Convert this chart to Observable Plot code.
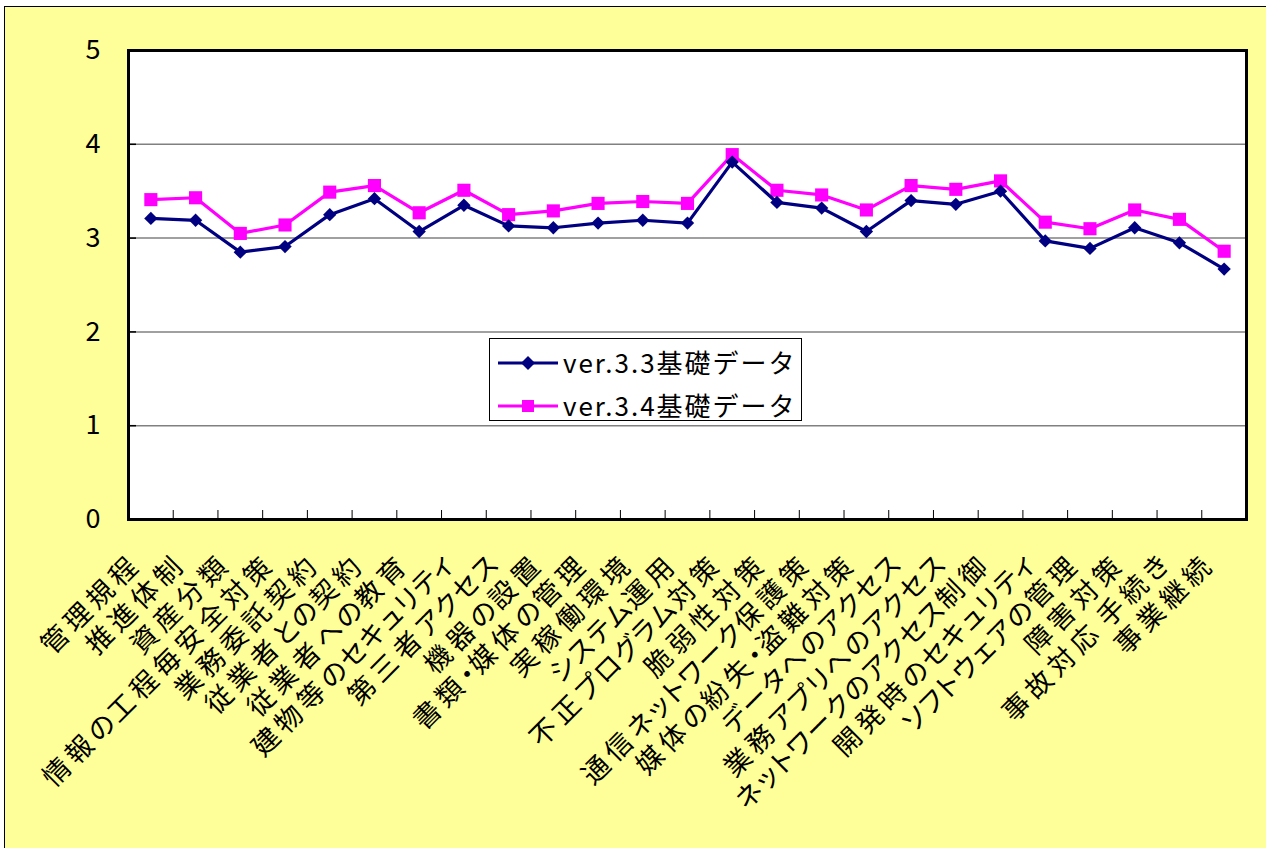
<!DOCTYPE html>
<html>
<head>
<meta charset="utf-8">
<script src="https://cdn.jsdelivr.net/npm/d3@7"></script>
<script src="https://cdn.jsdelivr.net/npm/@observablehq/plot@0.6"></script>
<style>
  html, body { margin: 0; padding: 0; background: #ffffff; overflow: hidden; width: 1266px; height: 848px; }
  #outer { position: absolute; left: 4px; top: 6px; width: 1300px; height: 900px; border: 1px solid #000; background: #FFFF99; }
  #chart { position: absolute; left: 0; top: 0; }
  #legend { position: absolute; left: 489px; top: 338px; width: 313px; height: 83px; box-sizing: border-box;
            border: 1px solid #000; background: #fff; font-family: "Noto Sans CJK JP", sans-serif; font-size: 26px; letter-spacing: 2px; color: #000; }
  .row { position: absolute; left: 0; height: 40px; width: 100%; }
  .row svg { position: absolute; left: 8px; top: 10px; }
  .row span { position: absolute; left: 73px; top: 2px; line-height: 34px; white-space: nowrap; }
  #chart svg g[aria-label="text"]:last-of-type text { font-feature-settings: "palt" 1; }
  tspan.k { letter-spacing: 5px; }
  tspan.kana { letter-spacing: 1.5px; }
  tspan.sp { letter-spacing: 0px; }
</style>
</head>
<body>
<div id="outer"></div>
<div id="chart"></div>
<div id="legend"></div>
<script>
const categories = [
  "管理規程", "推進体制", "資産分類", "情報の工程毎安全対策", "業務委託契約",
  "従業者との契約", "従業者への教育", "建物等のセキュリティ", "第三者アクセス", "機器の設置",
  "書類・媒体の管理", "実稼働環境", "システム運用", "不正プログラム対策", "脆弱性対策",
  "通信ネットワーク保護策", "媒体の紛失・盗難対策", "データへのアクセス", "業務アプリへのアクセス", "ネットワークのアクセス制御",
  "開発時のセキュリティ", "ソフトウェアの管理", "障害対策", "事故対応 手続き", "事業継続"
];
const ver33 = [3.21, 3.19, 2.85, 2.91, 3.25, 3.42, 3.07, 3.35, 3.13, 3.11, 3.16, 3.19, 3.16, 3.81, 3.38, 3.32, 3.07, 3.40, 3.36, 3.50, 2.97, 2.89, 3.11, 2.95, 2.67];
const ver34 = [3.41, 3.43, 3.05, 3.14, 3.49, 3.56, 3.27, 3.51, 3.25, 3.29, 3.37, 3.39, 3.37, 3.89, 3.51, 3.46, 3.30, 3.56, 3.52, 3.61, 3.17, 3.10, 3.30, 3.20, 2.86];
const seriesNames = ["ver.3.3基礎データ", "ver.3.4基礎データ"];
const seriesColors = ["#000080", "#FF00FF"];
const yTicks = [0, 1, 2, 3, 4, 5];
const gridValues = [1, 2, 3, 4];

// category position = index (1..n) on a linear scale spanning [0.5, n + 0.5]
const labelRows = categories.map((c, i) => ({category: c, pos: i + 1}));
const boundaries = categories.slice(1).map((c, i) => i + 1.5);
const rows33 = categories.map((c, i) => ({category: c, pos: i + 1, value: ver33[i], series: seriesNames[0]}));
const rows34 = categories.map((c, i) => ({category: c, pos: i + 1, value: ver34[i], series: seriesNames[1]}));

const W = 1266, H = 848;
const mL = 128, mT = 50, mR = 20, mB = 329;
const plotW = W - mL - mR, plotH = H - mT - mB;

const chart = Plot.plot({
  width: W, height: H,
  marginLeft: mL, marginTop: mT, marginRight: mR, marginBottom: mB,
  style: {background: "transparent", fontFamily: "'Noto Sans CJK JP', sans-serif", color: "#000", overflow: "visible"},
  x: {type: "linear", domain: [0.5, categories.length + 0.5], axis: null},
  y: {domain: [0, 5], axis: null},
  marks: [
    Plot.frame({fill: "#ffffff", stroke: "none"}),
    Plot.ruleY(gridValues, {y: d => d, stroke: "#808080", strokeWidth: 1.5}),
    Plot.tickY(gridValues, {y: d => d, stroke: "#000", strokeWidth: 1.5, insetRight: plotW - 8}),
    Plot.tickX(boundaries, {x: d => d, insetTop: plotH - 9, stroke: "#000", strokeWidth: 1}),
    Plot.line(rows34, {x: "pos", y: "value", stroke: seriesColors[1], strokeWidth: 3.2}),
    Plot.dot(rows34, {x: "pos", y: "value", symbol: "square", r: 7.4, fill: seriesColors[1], stroke: "none"}),
    Plot.line(rows33, {x: "pos", y: "value", stroke: seriesColors[0], strokeWidth: 3.2}),
    Plot.dot(rows33, {x: "pos", y: "value", symbol: "diamond2", r: 6, fill: seriesColors[0], stroke: "none"}),
    Plot.frame({stroke: "#000", strokeWidth: 3}),
    Plot.text(yTicks, {y: d => d, text: d => String(d), frameAnchor: "left", textAnchor: "end", lineAnchor: "middle", dx: -28, fontSize: 27}),
    Plot.text(labelRows, {x: "pos", text: "category", frameAnchor: "bottom", rotate: -45, textAnchor: "end", lineAnchor: "bottom",
      dx: -8, dy: 46, fontSize: 27})
  ]
});
document.getElementById("chart").appendChild(chart);

// proportional spacing for category labels: kana tighter, kanji wider (as in the original)
const labelGroups = chart.querySelectorAll('g[aria-label="text"]');
const labelGroup = labelGroups[labelGroups.length - 1];
const ns = "http://www.w3.org/2000/svg";
labelGroup.querySelectorAll("text").forEach(t => {
  const s = t.textContent;
  t.textContent = "";
  for (const ch of s) {
    const ts = document.createElementNS(ns, "tspan");
    ts.setAttribute("class", ch === " " ? "sp" : /[\u3040-\u30ff]/.test(ch) ? "kana" : "k");
    ts.textContent = ch;
    t.appendChild(ts);
  }
});

// legend (HTML overlay inside plot area)
const legend = document.getElementById("legend");
seriesNames.forEach((name, i) => {
  const row = document.createElement("div");
  row.className = "row";
  row.style.top = (i === 0 ? 4 : 47) + "px";
  const c = seriesColors[i];
  const marker = i === 0
    ? `<polygon points="30,3 37,10 30,17 23,10" fill="${c}"/>`
    : `<rect x="24" y="4" width="12" height="12" fill="${c}"/>`;
  row.innerHTML = `<svg width="62" height="20"><line x1="0" y1="10" x2="60" y2="10" stroke="${c}" stroke-width="3"/>${marker}</svg><span>${name}</span>`;
  legend.appendChild(row);
});
</script>
</body>
</html>
